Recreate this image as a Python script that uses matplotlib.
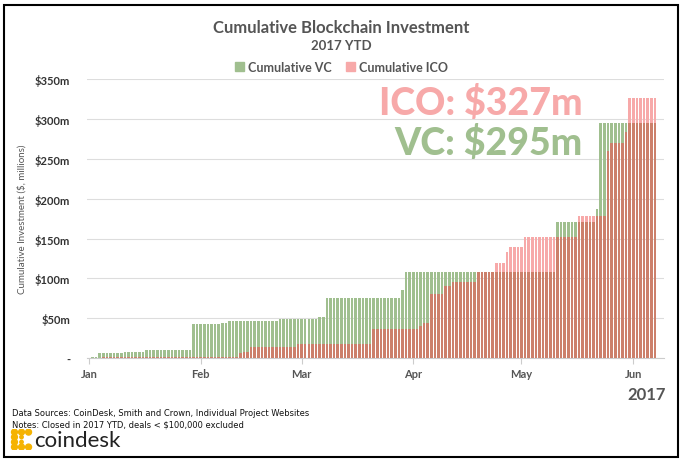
import numpy as np
import matplotlib
matplotlib.use("Agg")
import matplotlib.pyplot as plt
from matplotlib.patches import Patch, Rectangle

plt.rcParams['font.family'] = ['Lato', 'DejaVu Sans']

# cumulative values ($m) held as runs: level and number of days it lasts (from Jan 1)
vc_levels = [0, 1.5, 6, 8, 10.5, 42.5, 44.5, 46, 49.5, 51.5, 75.5, 85, 107.5, 171, 187, 295]
vc_runs = [1, 2, 7, 6, 13, 8, 2, 14, 11, 2, 21, 1, 42, 11, 1, 16]
ico_levels = [0, 2, 6, 8, 14.5, 17.5, 36, 40, 44, 81, 91, 96, 107.5, 120, 133, 139,
              152, 178, 260, 270, 283.5, 327]
ico_runs = [4, 38, 1, 2, 13, 21, 13, 1, 2, 4, 2, 7, 5, 3, 1, 4, 15, 8, 1, 4, 1, 8]

month_labels = ['Jan', 'Feb', 'Mar', 'Apr', 'May', 'Jun']
month_days = [0, 31, 59, 90, 120, 151]
y_ticks = [0, 50, 100, 150, 200, 250, 300, 350]
y_labels = ['-', '$50m', '$100m', '$150m', '$200m', '$250m', '$300m', '$350m']

vc = np.repeat(vc_levels, vc_runs)
ico = np.repeat(ico_levels, ico_runs)
days = np.arange(len(vc))
both = np.minimum(vc, ico)

green = '#a0bf8f'
pink = '#f7a9a9'
overlap = '#cc806b'
grey = '#555555'

fig = plt.figure(figsize=(6.83, 4.64), dpi=100)
ax = fig.add_axes([0.127, 0.226, 0.845, 0.601])

w = 0.72
ax.bar(days, vc, width=w, color=green, zorder=2)
ax.bar(days, ico, width=w, color=pink, zorder=2)
ax.bar(days, both, width=w, color=overlap, zorder=3)

ax.set_xlim(-0.6, 159.5)
ax.set_ylim(0, 350)
ax.set_yticks(y_ticks)
ax.set_yticklabels(y_labels)
ax.set_xticks(month_days)
ax.set_xticklabels(month_labels)
ax.grid(axis='y', color='#dddddd', linewidth=0.8, zorder=0)
ax.set_axisbelow(True)
for s in ['top', 'right', 'left']:
    ax.spines[s].set_visible(False)
ax.spines['bottom'].set_color('#cccccc')
ax.tick_params(axis='y', length=0, pad=12, labelsize=8, labelcolor='#333333')
ax.tick_params(axis='x', length=4, color='#cccccc', pad=3, labelsize=8, labelcolor=grey)
for t in ax.get_yticklabels() + ax.get_xticklabels():
    t.set_fontweight('bold')
ax.set_ylabel('Cumulative Investment ($, millions)', fontsize=7, color=grey, labelpad=6)

ax.text(137, 321, 'ICO: $327m', ha='right', va='center', fontsize=27,
        fontweight='black', color=pink, zorder=5)
ax.text(137, 271, 'VC: $295m', ha='right', va='center', fontsize=27,
        fontweight='black', color=green, zorder=5)

fig.text(0.5, 0.94, 'Cumulative Blockchain Investment', ha='center', va='center',
         fontsize=12, fontweight='bold', color=grey)
fig.text(0.5, 0.901, '2017 YTD', ha='center', va='center',
         fontsize=9.5, fontweight='bold', color=grey)
handles = [Patch(color=green, label='Cumulative VC'), Patch(color=pink, label='Cumulative ICO')]
leg = fig.legend(handles=handles, loc='center', bbox_to_anchor=(0.5, 0.853), ncol=2,
                 frameon=False, fontsize=9, handlelength=0.7, handleheight=0.7,
                 handletextpad=0.3, columnspacing=1.2)
for t in leg.get_texts():
    t.set_color(grey)
    t.set_fontweight('bold')

fig.text(0.975, 0.148, '2017', ha='right', va='center', fontsize=12,
         fontweight='bold', color=grey)

note_font = ['Liberation Sans Narrow', 'DejaVu Sans']
fig.text(0.018, 0.109, 'Data Sources: CoinDesk, Smith and Crown, Individual Project Websites',
         ha='left', va='center', fontsize=6, family=note_font, color='#111111')
fig.text(0.018, 0.085, 'Notes: Closed in 2017 YTD, deals < $100,000 excluded',
         ha='left', va='center', fontsize=6, family=note_font, color='#111111')
fig.text(0.05, 0.05, 'coindesk', ha='left', va='center', fontsize=16, color='#222222')

# little dotted logo mark
logo = fig.add_axes([0.015, 0.028, 0.033, 0.045])
lx = [0, 1, 2, 0, 0, 0, 1, 2, 1, 1]
ly = [3, 3, 3, 2, 1, 0, 0, 0, 2, 1]
ls = [18, 18, 18, 18, 18, 18, 18, 18, 6, 6]
logo.scatter(lx, ly, s=ls, color='#f5b301')
logo.set_xlim(-0.6, 2.6)
logo.set_ylim(-0.6, 3.6)
logo.axis('off')

fig.patches.append(Rectangle((0.006, 0.012), 0.986, 0.976, transform=fig.transFigure,
                             fill=False, edgecolor='black', linewidth=1.5))

fig.savefig('out.png', dpi=100)
